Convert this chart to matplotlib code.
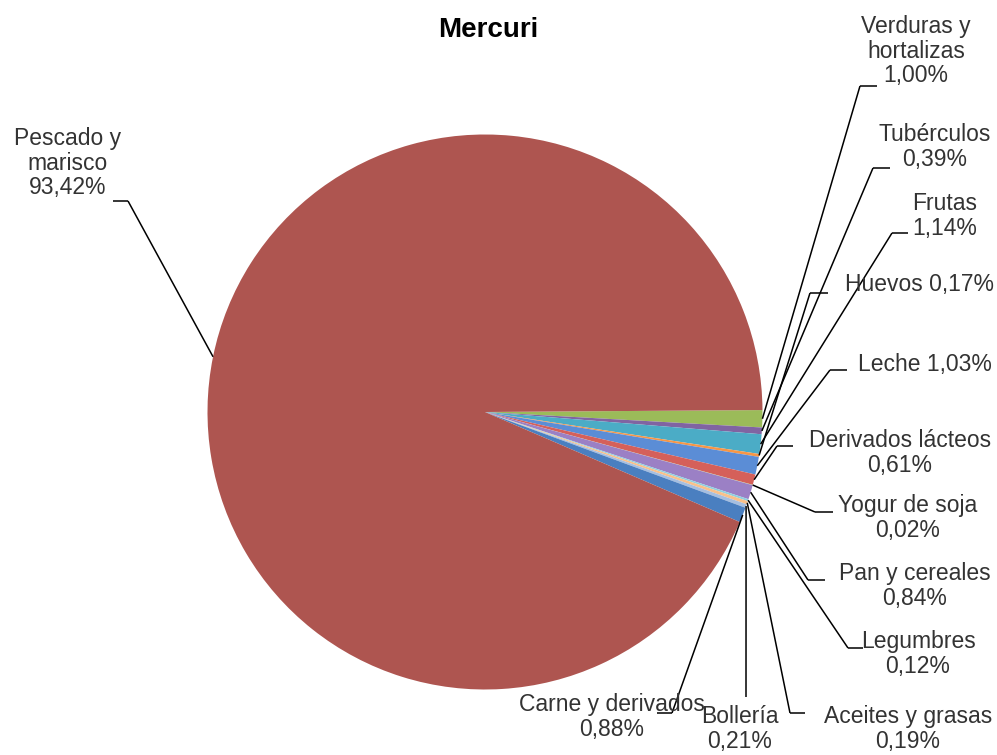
import matplotlib
matplotlib.use("Agg")
import matplotlib.pyplot as plt
import numpy as np

plt.rcParams['font.family'] = ['Liberation Sans', 'DejaVu Sans']

# ---- data ----
title = "Mercuri"
categories = ["Verduras y\nhortalizas", "Tubérculos", "Frutas", "Huevos", "Leche",
              "Derivados lácteos", "Yogur de soja", "Pan y cereales", "Legumbres",
              "Aceites y grasas", "Bollería", "Carne y derivados", "Pescado y\nmarisco"]
values = [1.00, 0.39, 1.14, 0.17, 1.03, 0.61, 0.02, 0.84, 0.12, 0.19, 0.21, 0.88, 93.42]
separators = ["\n", "\n", "\n", " ", " ", "\n", "\n", "\n", "\n", "\n", "\n", "\n", "\n"]
colors = ["#9BBB59", "#8064A2", "#4BACC6", "#F79646", "#5B8DD6", "#D5605A", "#AFCB7A",
          "#9B80C5", "#8FD0E0", "#F9C08A", "#A5BEE0", "#4A7FC0", "#AE5550"]

# ---- layout (pixel coords, y from top) ----
W, H = 997, 755
cx, cy, R = 485, 412, 277.5
# text center (x, y), elbow point (x, y), segment end x (None = no segment)
label_layout = [
    ((916, 51), (860, 86), 877),
    ((935, 147), (873, 168), 890),
    ((945, 216), (892, 233), 908),
    ((919, 285), (810, 293), 828),
    ((925, 364), (830, 370), 847),
    ((900, 453), (777, 446), 793),
    ((908, 518), (815, 512), 833),
    ((915, 586), (808, 580), 825),
    ((918, 654), (848, 648), 863),
    ((908, 729), (790, 713), 805),
    ((740, 729), (746, 697), None),
    ((612, 717), (672, 713), 657),
    ((68, 163), (128, 201), 113),
]

fig = plt.figure(figsize=(W / 100, H / 100), dpi=100)
ax = fig.add_axes([0, 0, 1, 1])

wedges, _ = ax.pie(values, colors=colors, startangle=0.4, counterclock=False,
                   center=(cx, H - cy), radius=R,
                   wedgeprops=dict(linewidth=0))
ax.set_xlim(0, W)
ax.set_ylim(0, H)
ax.set_aspect('equal', adjustable='box')
ax.axis('off')

txt_color = "#333333"
for w, name, v, sep, (tpos, elbow, segx) in zip(wedges, categories, values, separators, label_layout):
    mid = np.deg2rad((w.theta1 + w.theta2) / 2)
    ex = cx + R * np.cos(mid)
    ey = (H - cy) + R * np.sin(mid)
    bx, by = elbow[0], H - elbow[1]
    ax.plot([ex, bx], [ey, by], color="black", lw=1.1, solid_capstyle='butt')
    if segx is not None:
        ax.plot([bx, segx], [by, by], color="black", lw=1.1, solid_capstyle='butt')
    pct = f"{v:.2f}".replace('.', ',') + "%"
    ax.text(tpos[0], H - tpos[1], name + sep + pct, ha='center', va='center',
            fontsize=16.5, color=txt_color, linespacing=1.1)

ax.text(488, H - 30, title, ha='center', va='center', fontsize=20,
        fontweight='bold', color="black")

fig.savefig("out.png", dpi=100)
